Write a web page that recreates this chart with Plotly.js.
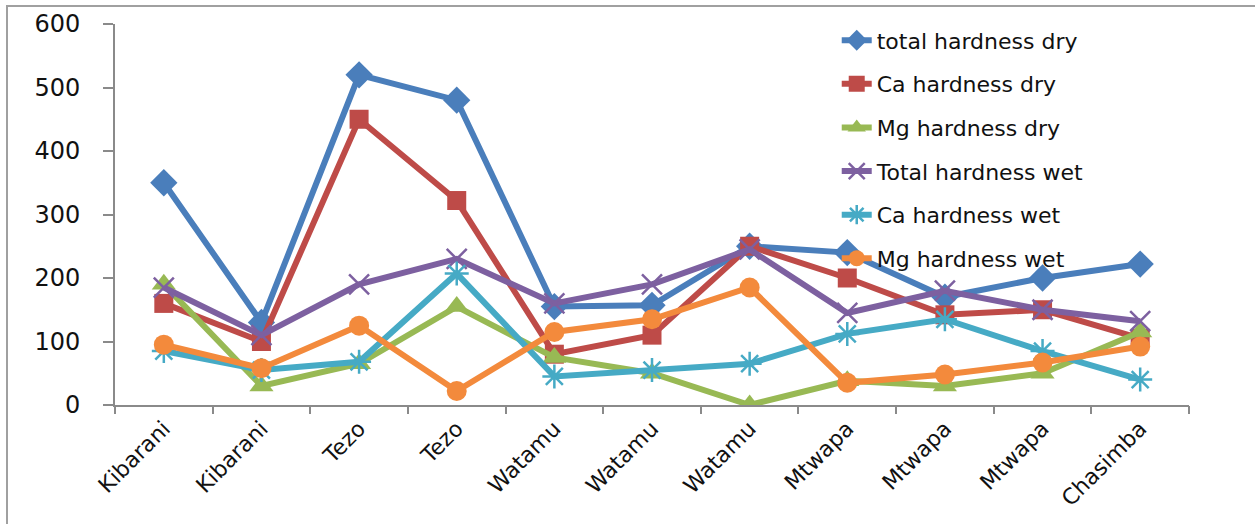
<!DOCTYPE html>
<html>
<head>
<meta charset="utf-8">
<script src="https://cdn.plot.ly/plotly-3.0.1.min.js"></script>
<style>
  html, body { margin: 0; padding: 0; background: #fff; overflow: hidden; }
  #frame { position: absolute; left: 6px; top: 5px; width: 1300px; height: 600px;
           border-left: 2px solid #a0a0a0; border-top: 2px solid #a0a0a0; box-sizing: border-box; }
  #chart { position: absolute; left: 0; top: 0; width: 1255px; height: 524px; }
</style>
</head>
<body>
<div id="frame"></div>
<div id="chart"></div>
<script>
const categories = ["Kibarani", "Kibarani", "Tezo", "Tezo", "Watamu", "Watamu", "Watamu", "Mtwapa", "Mtwapa", "Mtwapa", "Chasimba"];
const totalHardnessDry = [350, 130, 520, 480, 155, 157, 250, 240, 170, 200, 222];
const caHardnessDry    = [160, 100, 450, 322, 80, 110, 250, 200, 142, 150, 105];
const mgHardnessDry    = [190, 30, 65, 155, 75, 50, 0, 38, 30, 50, 115];
const totalHardnessWet = [185, 110, 190, 230, 160, 190, 245, 145, 180, 150, 132];
const caHardnessWet    = [85, 55, 68, 207, 45, 55, 65, 112, 135, 85, 40];
const mgHardnessWet    = [95, 58, 125, 22, 115, 135, 185, 35, 48, 67, 92];
const yTicks = [0, 100, 200, 300, 400, 500, 600];

const xs = categories.map((c, i) => i);
const bounds = categories.map((c, i) => i - 0.5).concat([categories.length - 0.5]);

function tr(name, y, color, symbol, size, mline) {
  return {
    type: 'scatter', mode: 'lines+markers', name: name, x: xs, y: y,
    legendgroup: name,
    line: { color: color, width: 6 },
    marker: { color: color, symbol: symbol, size: size, line: { color: color, width: mline || 0 } }
  };
}

const data = [
  tr('total hardness dry', totalHardnessDry, '#4A7EBB', 'diamond', 21),
  tr('Ca hardness dry', caHardnessDry, '#BE4B48', 'square', 19),
  tr('Mg hardness dry', mgHardnessDry, '#98B954', 'triangle-up', 21),
  tr('Total hardness wet', totalHardnessWet, '#7D60A0', 'x-thin-open', 20, 2.5),
  tr('Ca hardness wet', caHardnessWet, '#46AAC5', 'asterisk-open', 20, 2.5),
  tr('Mg hardness wet', mgHardnessWet, '#F38A3C', 'circle', 20),
  {
    type: 'scatter', mode: 'markers', x: [0], y: [0], xaxis: 'x2', yaxis: 'y',
    showlegend: false, hoverinfo: 'skip', marker: { opacity: 0 }
  }
];

const layout = {
  width: 1255, height: 524,
  margin: { l: 115, r: 66, t: 24, b: 119 },
  paper_bgcolor: 'rgba(0,0,0,0)', plot_bgcolor: 'rgba(0,0,0,0)',
  font: { family: 'DejaVu Sans', color: '#222' },
  showlegend: true,
  legend: {
    x: 0.672, y: 1.012, xanchor: 'left', yanchor: 'top',
    bgcolor: 'rgba(0,0,0,0)', borderwidth: 0,
    font: { family: 'DejaVu Sans', size: 22, color: '#111' },
    traceorder: 'grouped', tracegroupgap: 12
  },
  xaxis: {
    range: [-0.5, categories.length - 0.5], tickmode: 'array',
    tickvals: xs, ticktext: categories, ticks: '', tickangle: -45,
    tickfont: { family: 'DejaVu Sans', size: 22, color: '#111' },
    showgrid: false, zeroline: false, showline: true, linecolor: '#8a8a8a', linewidth: 2,
    fixedrange: true
  },
  xaxis2: {
    overlaying: 'x', anchor: 'y', side: 'bottom',
    range: [-0.5, categories.length - 0.5], tickmode: 'array',
    tickvals: bounds, ticktext: bounds.map(() => ''), ticks: 'outside', ticklen: 8,
    tickwidth: 2, tickcolor: '#8a8a8a', showticklabels: false,
    showgrid: false, zeroline: false, showline: false
  },
  yaxis: {
    range: [0, 600], tickmode: 'array', tickvals: yTicks, ticktext: yTicks.map(String),
    ticks: 'outside', ticklen: 10, tickwidth: 2, tickcolor: '#8a8a8a',
    ticklabelstandoff: 18,
    tickfont: { family: 'DejaVu Sans', size: 24, color: '#111' },
    showgrid: false, zeroline: false, showline: true, linecolor: '#8a8a8a', linewidth: 2,
    fixedrange: true
  }
};

Plotly.newPlot('chart', data, layout, { displayModeBar: false, staticPlot: true });
</script>
</body>
</html>
